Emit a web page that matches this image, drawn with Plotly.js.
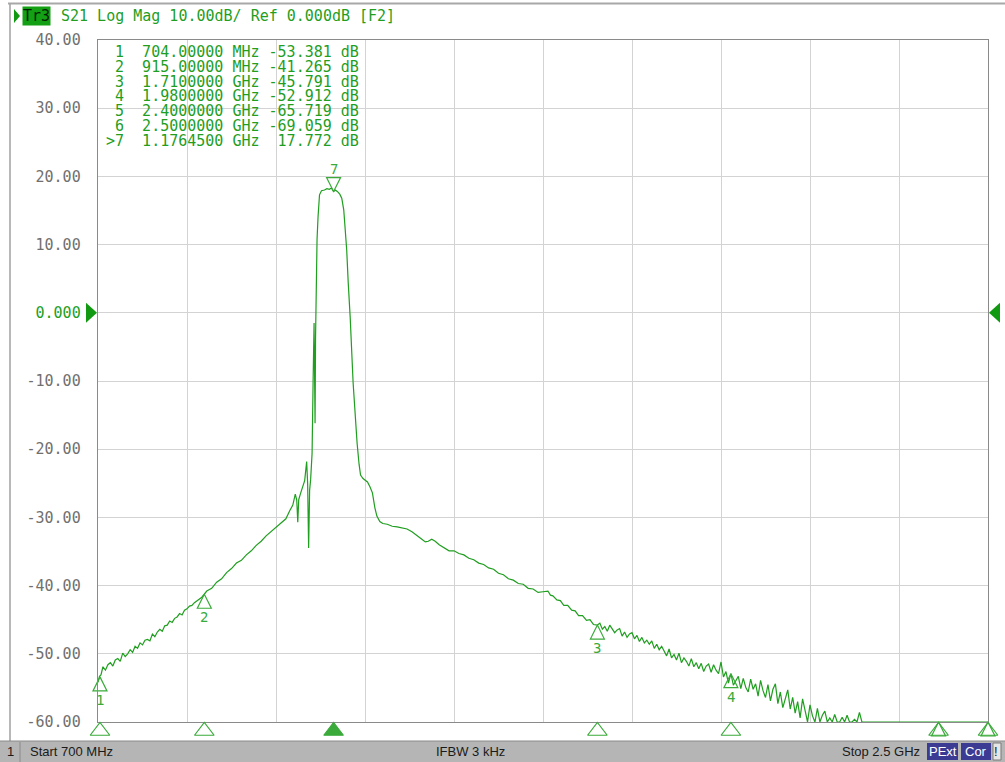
<!DOCTYPE html>
<html><head><meta charset="utf-8">
<script src="https://cdn.plot.ly/plotly-3.0.1.min.js"></script>
<style>html,body{margin:0;padding:0;background:#fff;overflow:hidden}#chart{width:1005px;height:762px}</style>
</head><body><div id="chart"></div>
<script>
// ---- data (frequency in MHz, S21 in dB) ----
const freqMHz = [
 700,703,706,710,715,720,725,730,735,740,745,750,755,760,765,770,775,780,785,790,795,800,805,810,815,820,825,830,835,840,845,850,855,860,865,870,875,880,885,890,895,900,
 910,920,930,940,950,960,970,980,990,1000,1010,1020,1030,1040,1050,1060,1070,1080,1088,1094,1099,1102,1104,1106,1110,1114,1118,1122,1124,1126,1128,1130,1133,1135,1136,1137,1138,1139,1140,1141,1143,1145,1148,1152,1158,1163,1168,1172,1176.45,1180,1184,1189,1193,1197,1200,1203,1206,1210,1216,1220,1224,1228,1231,1236,1240,1245,1250,1255,1260,1264,1270,1276,1285,1295,1305,1315,1325,1335,1345,1355,1362,1368,1375,1382,1390,
 1400,1410,1420,1430,1440,1450,1460,1470,1480,1490,1500,1510,1520,1530,1540,1550,1560,1570,1580,1590,1600,1610,1615,1620,1628,1635,1642,1650,1658,1665,1672,1680,1688,1695,1702,1710,
 1715,1720,1725,1730,1735,1740,1745,1750,1755,1760,1765,1770,1775,1780,1785,1790,1795,1800,1805,1810,1815,1820,1825,1830,1835,1840,1845,1850,1855,1860,1865,1870,1875,1880,1885,1890,1895,1900,1905,1910,1915,1920,1925,1930,1935,1940,1945,1950,1955,
 1960,1965,1970,1975,1980,1985,1990,1995,2000,2005,2010,2015,2020,2025,2030,2035,2040,2045,2050,2055,2060,2065,2070,2075,2080,2085,2090,2095,2100,2105,2110,2115,2120,2125,2130,2135,2140,2145,2150,2155,2160,2165,2170,2175,2180,2185,2190,2195,2200,2205,2210,2215,2220,2225,2230,2235,2240,2245,
 2250,2300,2350,2400,2450,2500
];
const s21dB = [
 -54.2,-53.3,-53.1,-51.9,-52.4,-51.6,-51.3,-51.8,-50.9,-50.7,-51.1,-49.9,-50.4,-50.0,-49.4,-49.8,-48.9,-49.2,-48.4,-48.7,-48.0,-47.9,-48.1,-47.1,-47.5,-46.8,-46.4,-46.7,-45.9,-45.8,-45.2,-45.4,-44.8,-44.6,-44.1,-44.3,-43.6,-43.4,-43.0,-42.9,-42.5,-42.2,
 -41.7,-40.8,-40.4,-39.5,-39.0,-38.1,-37.5,-36.7,-36.3,-35.5,-34.9,-34.1,-33.5,-32.7,-32.1,-31.5,-30.8,-30.2,-29.0,-28.2,-26.6,-27.5,-30.7,-27.4,-26.4,-25.6,-24.6,-21.8,-25.0,-34.5,-26.0,-24.5,-20.6,-10.3,-3.0,-1.5,-9.0,-16.2,-3.5,2.0,10.7,14.0,17.3,17.9,18.0,18.2,18.1,18.3,17.77,18.0,17.8,17.4,16.8,15.1,12.5,9.2,4.5,-0.6,-10.3,-15.0,-19.1,-22.2,-23.8,-24.3,-24.5,-24.8,-25.5,-26.4,-28.6,-29.8,-30.6,-30.9,-31.0,-31.3,-31.4,-31.5,-31.7,-32.1,-32.6,-33.2,-33.6,-33.5,-33.2,-33.5,-34.0,
 -34.4,-34.9,-34.9,-35.3,-35.5,-36.0,-36.2,-36.7,-36.9,-37.4,-37.6,-38.2,-38.4,-39.0,-39.2,-39.7,-39.8,-40.4,-40.5,-41.0,-40.9,-40.8,-41.4,-41.5,-42.1,-42.2,-42.9,-42.9,-43.6,-43.7,-44.4,-44.4,-45.1,-45.0,-45.7,-45.79,
 -45.5,-46.4,-46.0,-46.7,-45.8,-46.4,-46.9,-46.5,-46.3,-47.4,-46.8,-47.6,-47.1,-46.9,-47.8,-47.3,-48.2,-47.6,-48.4,-48.0,-48.6,-48.1,-49.2,-48.6,-49.4,-48.9,-49.5,-50.3,-49.3,-50.6,-50.1,-50.9,-49.9,-51.3,-50.6,-51.1,-51.8,-50.7,-51.9,-51.3,-52.2,-51.4,-52.6,-51.8,-51.5,-52.7,-51.6,-52.4,-52.9,
 -51.2,-53.4,-52.6,-54.3,-52.91,-54.6,-54.0,-53.3,-55.1,-53.6,-54.9,-55.6,-53.7,-55.2,-54.4,-56.2,-53.9,-55.4,-56.4,-54.5,-56.9,-55.2,-54.4,-57.3,-55.6,-57.9,-56.6,-55.3,-58.1,-56.4,-58.7,-57.0,-59.4,-56.6,-58.3,-60.2,-57.5,-59.1,-60.6,-58.0,-60.4,-59.0,-58.4,-60.7,-59.4,-60.9,-58.9,-61.1,-60.2,-59.3,-61.2,-59.0,-61.4,-60.5,-59.6,-61.3,-58.6,-61.5,
 -62.0,-63.5,-64.5,-65.72,-67.3,-69.06
];
const markerIds = ['1','2','3','4','5','6','7'];
const markerFreqMHz = [704, 915, 1710, 1980, 2400, 2500, 1176.45];
const markerFreqText = ['704.00000 MHz','915.00000 MHz','1.7100000 GHz','1.9800000 GHz','2.4000000 GHz','2.5000000 GHz','1.1764500 GHz'];
const markerDb = [-53.381, -41.265, -45.791, -52.912, -65.719, -69.059, 17.772];
const activeMarker = 6;
const yTickVals = [40,30,20,10,0,-10,-20,-30,-40,-50,-60];
const yTickText = ['40.00','30.00','20.00','10.00','0.000','-10.00','-20.00','-30.00','-40.00','-50.00','-60.00'];
const headerText = 'S21 Log Mag 10.00dB/ Ref 0.000dB [F2]';
const traceName = 'Tr3';
const startText = 'Start 700 MHz', ifbwText = 'IFBW 3 kHz', stopText = 'Stop 2.5 GHz';

// ---- layout helpers ----
const W=1005, H=762, L=98, R=17, T=40, B=22;
const PW=W-L-R, PH=H-T-B;
const stripPx = 18;
const px = x => (x-L)/PW;
const py = y => (H-B-y)/PH;
const yMin = -60, yMax = 40, fMin = 700, fMax = 2500;
const GREEN = '#1f9e1f', LGREEN = '#3aaa3a';
const MONO = 'DejaVu Sans Mono';
const clamp = v => Math.max(yMin, Math.min(yMax, v));
const nb = s => s.replace(/ /g, '\u00A0');

const traces = [];
traces.push({x: freqMHz, y: s21dB.map(clamp), type:'scatter', mode:'lines',
  line:{color:GREEN, width:1.2}, hoverinfo:'skip', xaxis:'x', yaxis:'y'});
traces.push({x: markerFreqMHz, y: markerDb.map(clamp), type:'scatter', mode:'markers', cliponaxis:false,
  marker:{symbol: markerIds.map((m,i)=> i===activeMarker ? 'arrow-down-open' : 'arrow-up-open'), size:14,
    color:LGREEN, line:{color:LGREEN, width:1.2}}, hoverinfo:'skip', xaxis:'x', yaxis:'y'});
traces.push({x: markerFreqMHz, y: markerIds.map(()=>0.5), type:'scatter', mode:'markers', cliponaxis:false,
  marker:{symbol: markerIds.map((m,i)=> i===activeMarker ? 'triangle-up' : 'triangle-up-open'), size:17,
    color:LGREEN, line:{color:LGREEN, width:1.2}}, hoverinfo:'skip', xaxis:'x2', yaxis:'y2'});

const annotations = [];
// marker labels on the trace
markerIds.forEach((m,i)=>{
  if (markerDb[i] < yMin) return;
  annotations.push({x: markerFreqMHz[i], y: clamp(markerDb[i]), xref:'x', yref:'y', text:m, showarrow:false,
    yshift: i===activeMarker ? 23 : -23, font:{family:MONO, size:14, color:LGREEN}});
});
// marker table
markerIds.forEach((m,i)=>{
  const val = markerDb[i].toFixed(3).padStart(7,' ');
  const line = (i===activeMarker?'>':' ') + m + '  ' + markerFreqText[i] + ' ' + val + ' dB';
  annotations.push({x: px(105), y: py(52 + i*14.83), xref:'paper', yref:'paper', xanchor:'left', yanchor:'middle',
    text: nb(line), showarrow:false, borderpad:0, font:{family:MONO, size:15, color:GREEN}});
});
// header
annotations.push({x: px(22), y: py(16), xref:'paper', yref:'paper', xanchor:'left', yanchor:'middle', text: traceName,
  showarrow:false, bgcolor:'#14a014', borderpad:0, font:{family:MONO, size:15, color:'#002200'}});
annotations.push({x: px(60), y: py(16), xref:'paper', yref:'paper', xanchor:'left', yanchor:'middle', text: nb(headerText),
  showarrow:false, borderpad:0, font:{family:MONO, size:15, color:GREEN}});
// status bar
const SB = {family:'Liberation Sans', size:13, color:'#1a1a1a'};
annotations.push({x: px(10), y: py(751), xref:'paper', yref:'paper', xanchor:'center', yanchor:'middle', text:'1', showarrow:false, font:SB});
annotations.push({x: px(28), y: py(751), xref:'paper', yref:'paper', xanchor:'left', yanchor:'middle', text:startText, showarrow:false, font:SB});
annotations.push({x: px(470), y: py(751), xref:'paper', yref:'paper', xanchor:'center', yanchor:'middle', text:ifbwText, showarrow:false, font:SB});
annotations.push({x: px(922), y: py(751), xref:'paper', yref:'paper', xanchor:'right', yanchor:'middle', text:stopText, showarrow:false, font:SB});
annotations.push({x: px(942.5), y: py(751), xref:'paper', yref:'paper', xanchor:'center', yanchor:'middle', text:'PExt', showarrow:false, font:{family:'Liberation Sans', size:13, color:'#ffffff'}});
annotations.push({x: px(976), y: py(751), xref:'paper', yref:'paper', xanchor:'center', yanchor:'middle', text:'Cor', showarrow:false, font:{family:'Liberation Sans', size:13, color:'#ffffff'}});
annotations.push({x: px(996.5), y: py(751), xref:'paper', yref:'paper', xanchor:'center', yanchor:'middle', text:'!', showarrow:false, font:SB});

const rectPx = (x0,y0,x1,y1,fill,line) => ({type:'rect', xref:'paper', yref:'paper', x0:px(x0), x1:px(x1), y0:py(y0), y1:py(y1),
  fillcolor:fill, line:{color:line||'rgba(0,0,0,0)', width: line?1:0}, layer:'below'});
const linePx = (x0,y0,x1,y1,color,w) => ({type:'line', xref:'paper', yref:'paper', x0:px(x0), x1:px(x1), y0:py(y0), y1:py(y1),
  line:{color:color, width:w||1}, layer:'below'});

const shapes = [
  linePx(8,3.5,1005,3.5,'#a8a8a8',2),
  linePx(10,4,10,741,'#a0a0a0',1.5),
  rectPx(0,741,1005,762,'#b5b5b5'),
  linePx(0,741,1005,741,'#8a8a8a',1),
  linePx(20,742,20,762,'#8a8a8a',1),
  rectPx(927,743,958,760,'#3b3b94'),
  rectPx(961,743,991,760,'#3b3b94'),
  rectPx(993,743,1001,760,'#e6e6e6','#7a7a7a'),
  // header play triangle
  {type:'path', xref:'paper', yref:'paper', xsizemode:'pixel', ysizemode:'pixel', xanchor:0, yanchor:1,
    path:'M-84,31 L-78,24 L-84,17 Z', fillcolor:'#119911', line:{width:0}},
  // reference-level triangles at 0 dB
  {type:'path', xref:'paper', yref:'y', xsizemode:'pixel', ysizemode:'pixel', xanchor:0, yanchor:0,
    path:'M-12,10 L-1,0 L-12,-10 Z', fillcolor:'#119911', line:{width:0}},
  {type:'path', xref:'paper', yref:'y', xsizemode:'pixel', ysizemode:'pixel', xanchor:1, yanchor:0,
    path:'M1,0 L12,10 L12,-10 Z', fillcolor:'#119911', line:{width:0}}
];

const layout = {
  width:W, height:H, margin:{l:L, r:R, t:T, b:B, pad:0},
  paper_bgcolor:'#ffffff', plot_bgcolor:'#ffffff', showlegend:false,
  xaxis:{range:[fMin,fMax], tick0:fMin, dtick:(fMax-fMin)/10, showticklabels:false, ticks:'',
    showgrid:true, gridcolor:'#d3d3d3', gridwidth:1, zeroline:false, showline:true, linecolor:'#8a8a8a', linewidth:1.3,
    mirror:true, anchor:'y', fixedrange:true},
  yaxis:{range:[yMin,yMax], domain:[stripPx/PH,1], tickmode:'array', tickvals:yTickVals,
    ticktext: yTickText.map(t => t==='0.000' ? '<span style="color:#1ea01e">'+t+'</span>' : t),
    tickfont:{family:MONO, size:15, color:'#707070'}, ticks:'', ticklabelstandoff:13,
    showgrid:true, gridcolor:'#d3d3d3', gridwidth:1, zeroline:false, showline:true, linecolor:'#8a8a8a', linewidth:1.3,
    mirror:true, anchor:'x', fixedrange:true},
  xaxis2:{range:[fMin,fMax], visible:false, anchor:'y2', fixedrange:true},
  yaxis2:{range:[0,1], domain:[0,stripPx/PH], visible:false, anchor:'x2', fixedrange:true},
  annotations, shapes
};
Plotly.newPlot('chart', traces, layout, {displayModeBar:false, staticPlot:true});
</script></body></html>
